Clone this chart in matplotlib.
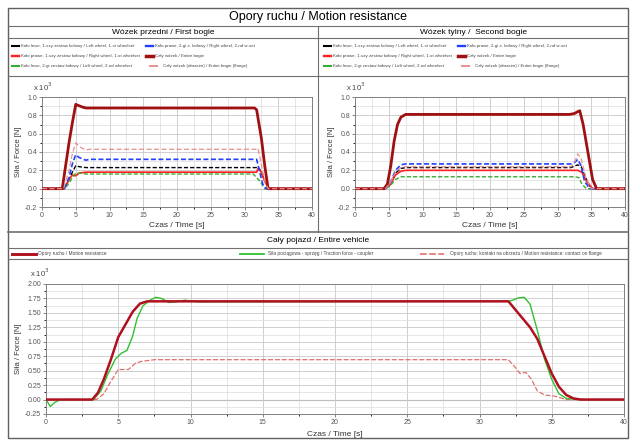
import matplotlib
matplotlib.use("Agg")
import matplotlib.pyplot as plt
import numpy as np
from matplotlib.lines import Line2D
from matplotlib.patches import Rectangle
from matplotlib.ticker import MultipleLocator
from matplotlib.transforms import offset_copy

plt.rcParams['font.family'] = ['Liberation Sans', 'DejaVu Sans']

W, H = 634, 441

# ---------------- data ----------------
title = "Opory ruchu / Motion resistance"
hdr_front = "Wózek przedni / First bogie"
hdr_rear = "Wózek tylny /  Second bogie"
hdr_vehicle = "Cały pojazd / Entire vehicle"
xlabel = "Czas / Time [s]"
ylabel = "Siła / Force [N]"

bogie_labels = [
    "Koło lewe, 1-szy zestaw kołowy / Left wheel, 1-st wheelset",
    "Koło prawe, 1-szy zestaw kołowy / Right wheel, 1-st wheelset",
    "Koło lewe, 2-gi zestaw kołowy / Left wheel, 2-nd wheelset",
    "Koło prawe, 2-gi z. kołowy / Right wheel, 2-nd w-set",
    "Cały wózek / Entire bogie",
    "Cały wózek (obrzeże) / Entire bogie (flange)",
]
vehicle_labels = [
    "Opory ruchu / Motion resistance",
    "Siła pociągowa - sprzęg / Traction force - coupler",
    "Opory ruchu: kontakt na obrzeżu / Motion resistance: contact on flange",
]

# First bogie (x10^3 N)
f_t_entire = [0, 3.0, 3.5, 4.0, 4.5, 5.0, 5.3, 6.0, 6.5, 7.0, 31.5, 31.8, 32.5, 33.0, 33.5, 40]
f_v_entire = [0, 0, 0.25, 0.5, 0.72, 0.92, 0.91, 0.89, 0.88, 0.88, 0.88, 0.86, 0.55, 0.25, 0.0, 0]
f_t_flange = [0, 3.2, 4.0, 4.5, 5.0, 5.5, 6.5, 7.0, 31.8, 32.0, 32.4, 33.0, 33.5, 40]
f_v_flange = [0, 0, 0.2, 0.38, 0.50, 0.46, 0.42, 0.43, 0.43, 0.44, 0.30, 0.08, 0.0, 0]
f_t_blue = [0, 3.3, 4.0, 4.5, 5.0, 5.5, 6.5, 7.0, 31.8, 32.2, 32.7, 33.2, 40]
f_v_blue = [0, 0, 0.12, 0.27, 0.37, 0.34, 0.31, 0.32, 0.32, 0.20, 0.05, 0.0, 0]
f_t_black = [0, 3.3, 4.0, 4.5, 5.0, 5.5, 6.5, 31.8, 32.2, 32.8, 33.5, 40]
f_v_black = [0, 0, 0.10, 0.18, 0.25, 0.24, 0.23, 0.23, 0.22, 0.12, 0.0, 0]
f_t_red = [0, 3.3, 4.0, 4.5, 5.0, 5.5, 6.5, 31.8, 32.0, 32.5, 33.0, 33.6, 40]
f_v_red = [0, 0, 0.10, 0.15, 0.14, 0.17, 0.18, 0.18, 0.22, 0.18, 0.08, 0.0, 0]
f_t_green = [0, 3.4, 4.0, 4.5, 5.0, 5.5, 6.5, 31.3, 31.8, 32.3, 33.0, 40]
f_v_green = [0, 0, 0.06, 0.12, 0.17, 0.17, 0.16, 0.16, 0.12, 0.08, 0.0, 0]

# Second bogie (x10^3 N)
r_t_entire = [0, 4.3, 4.8, 5.3, 5.8, 6.3, 6.8, 7.5, 31.8, 32.5, 33.0, 33.3, 33.8, 34.5, 35.2, 35.8, 40]
r_v_entire = [0, 0, 0.05, 0.25, 0.52, 0.70, 0.78, 0.81, 0.81, 0.82, 0.84, 0.85, 0.70, 0.40, 0.10, 0.0, 0]
r_t_flange = [0, 4.5, 5.2, 6.0, 6.8, 7.5, 32.0, 32.6, 33.0, 33.5, 34.2, 35.0, 40]
r_v_flange = [0, 0, 0.06, 0.18, 0.23, 0.24, 0.24, 0.30, 0.38, 0.33, 0.12, 0.0, 0]
r_t_blue = [0, 4.5, 5.2, 6.0, 6.8, 7.5, 32.0, 32.6, 33.0, 33.5, 34.0, 34.8, 40]
r_v_blue = [0, 0, 0.06, 0.20, 0.26, 0.27, 0.27, 0.29, 0.32, 0.25, 0.08, 0.0, 0]
r_t_black = [0, 4.5, 5.2, 6.0, 6.8, 7.5, 32.0, 33.0, 33.5, 34.3, 35.0, 40]
r_v_black = [0, 0, 0.05, 0.17, 0.22, 0.23, 0.23, 0.26, 0.24, 0.10, 0.0, 0]
r_t_red = [0, 4.5, 5.2, 6.0, 6.8, 7.5, 32.0, 33.0, 33.6, 34.3, 35.2, 40]
r_v_red = [0, 0, 0.04, 0.15, 0.19, 0.20, 0.20, 0.20, 0.18, 0.08, 0.0, 0]
r_t_green = [0, 4.5, 5.2, 6.0, 6.8, 7.5, 32.5, 33.2, 33.6, 34.3, 40]
r_v_green = [0, 0, 0.03, 0.10, 0.13, 0.13, 0.13, 0.12, 0.05, 0.0, 0]

# Entire vehicle (x10^3 N)
v_t_motion = [0, 3.2, 3.6, 4.0, 4.5, 5.0, 5.5, 6.0, 6.5, 7.0, 8.0, 32.0, 32.5, 33.0, 33.5, 34.0, 34.5, 35.0, 35.5, 36.0, 36.5, 37.0, 40]
v_v_motion = [0, 0, 0.12, 0.35, 0.70, 1.08, 1.30, 1.52, 1.66, 1.70, 1.70, 1.70, 1.55, 1.40, 1.25, 1.05, 0.75, 0.45, 0.22, 0.08, 0.02, 0.0, 0]
v_t_traction = [0, 0.3, 0.6, 1.0, 3.3, 3.8, 4.3, 4.8, 5.2, 5.6, 6.0, 6.3, 6.7, 7.2, 7.6, 8.0, 8.5, 9.0, 9.6, 10.5, 32.0, 32.3, 32.7, 33.1, 33.5, 34.0, 34.5, 35.0, 35.5, 36.0, 37.0, 40]
v_v_traction = [0, -0.12, -0.05, 0, 0, 0.15, 0.45, 0.70, 0.80, 0.85, 1.10, 1.40, 1.62, 1.72, 1.77, 1.75, 1.68, 1.69, 1.72, 1.69, 1.70, 1.72, 1.76, 1.77, 1.65, 1.20, 0.70, 0.35, 0.10, 0.02, 0.0, 0]
v_t_flange = [0, 3.5, 4.0, 4.5, 5.0, 5.7, 6.2, 6.6, 7.5, 32.0, 32.5, 32.8, 33.2, 33.6, 34.0, 34.5, 35.2, 36.0, 40]
v_v_flange = [0, 0, 0.10, 0.32, 0.52, 0.52, 0.63, 0.66, 0.69, 0.69, 0.55, 0.45, 0.47, 0.35, 0.15, 0.08, 0.06, 0.0, 0]

bogie_styles = [
    dict(color="black", lw=1.0, ls=(0, (3, 1.5))),
    dict(color="#ff2020", lw=1.2, ls="-"),
    dict(color="#33b033", lw=1.0, ls=(0, (3, 1.5))),
    dict(color="#2040ff", lw=1.2, ls=(0, (3, 1.5))),
    dict(color="#a01010", lw=2.0, ls="-"),
    dict(color="#e89090", lw=0.9, ls=(0, (4, 2))),
]
vehicle_styles = [
    dict(color="#b01020", lw=1.8, ls="-"),
    dict(color="#30c030", lw=1.0, ls="-"),
    dict(color="#e07070", lw=0.9, ls=(0, (4, 1.5))),
]

fig = plt.figure(figsize=(W / 100, H / 100), dpi=100)


def fx(x):
    return x / W


def fy(y):
    return 1 - y / H


def hline(y, x0, x1, lw=0.8, c="#707070"):
    fig.add_artist(Line2D([fx(x0), fx(x1)], [fy(y), fy(y)], transform=fig.transFigure, color=c, lw=lw))


def vline(x, y0, y1, lw=0.8, c="#707070"):
    fig.add_artist(Line2D([fx(x), fx(x)], [fy(y0), fy(y1)], transform=fig.transFigure, color=c, lw=lw))


# Frame
fig.add_artist(Rectangle((fx(8), fy(438)), fx(620), 430 / H, transform=fig.transFigure,
                         fill=False, ec="#606060", lw=1.0))
hline(26, 8, 628)
hline(38, 8, 628)
hline(76, 8, 628)
vline(318, 26, 232)
hline(232, 8, 628, lw=1.2)
hline(248, 8, 628)
hline(259, 8, 628)

fig.text(fx(318), fy(17), title, ha="center", va="center", fontsize=9)
fig.text(fx(163), fy(32), hdr_front, ha="center", va="center", fontsize=6)
fig.text(fx(473), fy(32), hdr_rear, ha="center", va="center", fontsize=6)
fig.text(fx(318), fy(240), hdr_vehicle, ha="center", va="center", fontsize=6)

# Legends (top)
for off in (0, 312):
    rows = [46, 56, 66]
    for i in range(6):
        col = i // 3
        r = rows[i % 3]
        x0 = (12 if col == 0 else 146) + off
        st = bogie_styles[i]
        lx0 = x0 if i not in (5,) else x0 + 4
        fig.add_artist(Line2D([fx(lx0), fx(lx0 + 7)], [fy(r), fy(r)], transform=fig.transFigure,
                              color=st["color"], lw=st["lw"] + 0.5, ls="-"))
        fig.text(fx(lx0 + 9 + (4 if i == 5 else 0)), fy(r), bogie_labels[i], fontsize=3.2,
                 va="center", ha="left", color="#444444")

# Legend (bottom)
for i, (xh, xt) in enumerate([(12, 38), (240, 268), (420, 450)]):
    st = vehicle_styles[i]
    fig.add_artist(Line2D([fx(xh), fx(xh + 24)], [fy(253.5), fy(253.5)], transform=fig.transFigure,
                          color=st["color"], lw=st["lw"] + 0.3, ls=st["ls"]))
    fig.text(fx(xt), fy(253.5), vehicle_labels[i], fontsize=3.4, va="center", ha="left", color="#444444")


def style_ax(ax, ymin, ymax, ymaj, ymin_step, fmt, xoff):
    ax.set_xlim(0, 40)
    ax.set_ylim(ymin, ymax)
    ax.xaxis.set_major_locator(MultipleLocator(5))
    ax.xaxis.set_minor_locator(MultipleLocator(2.5))
    ax.yaxis.set_major_locator(MultipleLocator(ymaj))
    ax.yaxis.set_minor_locator(MultipleLocator(ymin_step))
    ax.grid(True, which="major", color="#c8c8c8", lw=0.6)
    ax.grid(True, which="minor", color="#dcdcdc", lw=0.5)
    ax.axhline(0, color="#909090", lw=0.8, zorder=1)
    ax.tick_params(labelsize=5, colors="#555555", length=2, width=0.5, pad=1.5)
    ax.tick_params(which="minor", length=1.5)
    ax.yaxis.set_major_formatter(plt.FuncFormatter(lambda v, p: fmt.format(v)))
    for s in ax.spines.values():
        s.set_color("#808080")
        s.set_linewidth(0.7)
    ax.set_xlabel(xlabel, fontsize=6, labelpad=2, color="#333333")
    ax.set_ylabel(ylabel, fontsize=5.5, labelpad=2, color="#333333")
    tr = offset_copy(ax.transAxes, fig=fig, x=xoff, y=0, units="dots")
    ax.text(0.0, 1.04, r"x 10$^3$", transform=tr, fontsize=5.5, ha="left", va="bottom", color="#444444")


def add_ax(l, t, r, b):
    return fig.add_axes([fx(l), fy(b), (r - l) / W, (b - t) / H])


axL = add_ax(42, 97, 312, 207)
axR = add_ax(355, 97, 625, 207)
axB = add_ax(46, 284, 624, 414)

front = [(f_t_black, f_v_black), (f_t_red, f_v_red), (f_t_green, f_v_green),
         (f_t_blue, f_v_blue), (f_t_entire, f_v_entire), (f_t_flange, f_v_flange)]
rear = [(r_t_black, r_v_black), (r_t_red, r_v_red), (r_t_green, r_v_green),
        (r_t_blue, r_v_blue), (r_t_entire, r_v_entire), (r_t_flange, r_v_flange)]

for ax, data in ((axL, front), (axR, rear)):
    style_ax(ax, -0.2, 1.0, 0.2, 0.1, "{:.1f}", -9)
    order = [5, 2, 1, 0, 3, 4]
    for i in order:
        t, v = data[i]
        st = bogie_styles[i]
        ax.plot(t, v, color=st["color"], lw=st["lw"], ls=st["ls"], zorder=3 + i)

style_ax(axB, -0.25, 2.0, 0.25, 0.125, "{:.2f}", -16)
for i, (t, v) in enumerate([(v_t_motion, v_v_motion), (v_t_traction, v_v_traction), (v_t_flange, v_v_flange)]):
    st = vehicle_styles[i]
    axB.plot(t, v, color=st["color"], lw=st["lw"], ls=st["ls"], zorder=5 - i)
axB.xaxis.labelpad = 4

fig.savefig("out.png", dpi=100, facecolor="white")
